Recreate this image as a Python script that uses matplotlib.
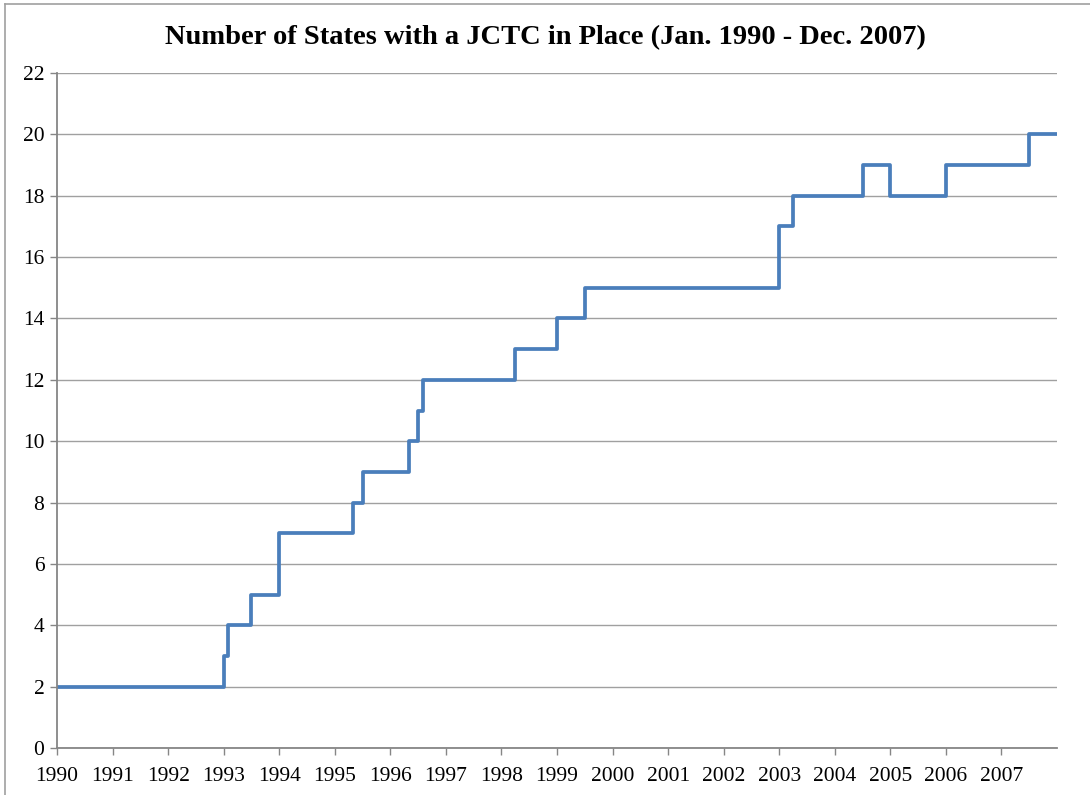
import matplotlib
matplotlib.use("Agg")
import matplotlib.pyplot as plt
from matplotlib.lines import Line2D

# Dates (year, month) when the count changed, and the new count
change_years = [1990, 1993, 1993, 1993, 1994, 1995, 1995, 1996, 1996, 1996,
                1998, 1999, 1999, 2003, 2003, 2004, 2005, 2006, 2007]
change_months = [1, 1, 2, 7, 1, 5, 7, 5, 7, 8,
                 4, 1, 7, 1, 4, 7, 1, 1, 7]
state_counts = [2, 3, 4, 5, 7, 8, 9, 10, 11, 12,
                13, 14, 15, 17, 18, 19, 18, 19, 20]
year_ticks = list(range(1990, 2008))

x = [y + (m - 1) / 12 for y, m in zip(change_years, change_months)]
x.append(2008)
vals = state_counts + [state_counts[-1]]

plt.rcParams["font.family"] = ["Liberation Serif", "DejaVu Serif"]

fig = plt.figure(figsize=(10.9, 7.95), dpi=100)
ax = fig.add_axes([57 / 1090, 1 - 748 / 795, 1000 / 1090, 675 / 795])

ax.step(x, vals, where="post", color="#4a7ebb", linewidth=2.7, zorder=3)

ax.set_xlim(1990, 2008)
ax.set_ylim(0, 22)
ax.set_xticks(year_ticks)
ax.set_xticklabels([str(y) for y in year_ticks])
ax.set_yticks(range(0, 23, 2))
ax.tick_params(axis="both", labelsize=15.5, colors="#868686", labelcolor="black",
               direction="out", length=5, width=1)
ax.tick_params(axis="x", pad=9)
ax.tick_params(axis="y", pad=4)

ax.grid(axis="y", color="#a0a0a0", linewidth=1)
ax.set_axisbelow(True)
for s in ["top", "right"]:
    ax.spines[s].set_visible(False)
for s in ["left", "bottom"]:
    ax.spines[s].set_color("#868686")
    ax.spines[s].set_linewidth(1.3)
    ax.spines[s].set_zorder(4)

fig.text(0.5, 1 - 38 / 795, "Number of States with a JCTC in Place (Jan. 1990 - Dec. 2007)",
         ha="center", va="center", fontsize=20.5, fontweight="bold")

# outer chart border (top and left visible)
fig.add_artist(Line2D([5 / 1090, 5 / 1090], [0, 1 - 4 / 795], transform=fig.transFigure,
                      color="#a0a0a0", linewidth=1.2))
fig.add_artist(Line2D([5 / 1090, 1], [1 - 4 / 795, 1 - 4 / 795], transform=fig.transFigure,
                      color="#a0a0a0", linewidth=1.2))

fig.savefig("out.png", dpi=100)
